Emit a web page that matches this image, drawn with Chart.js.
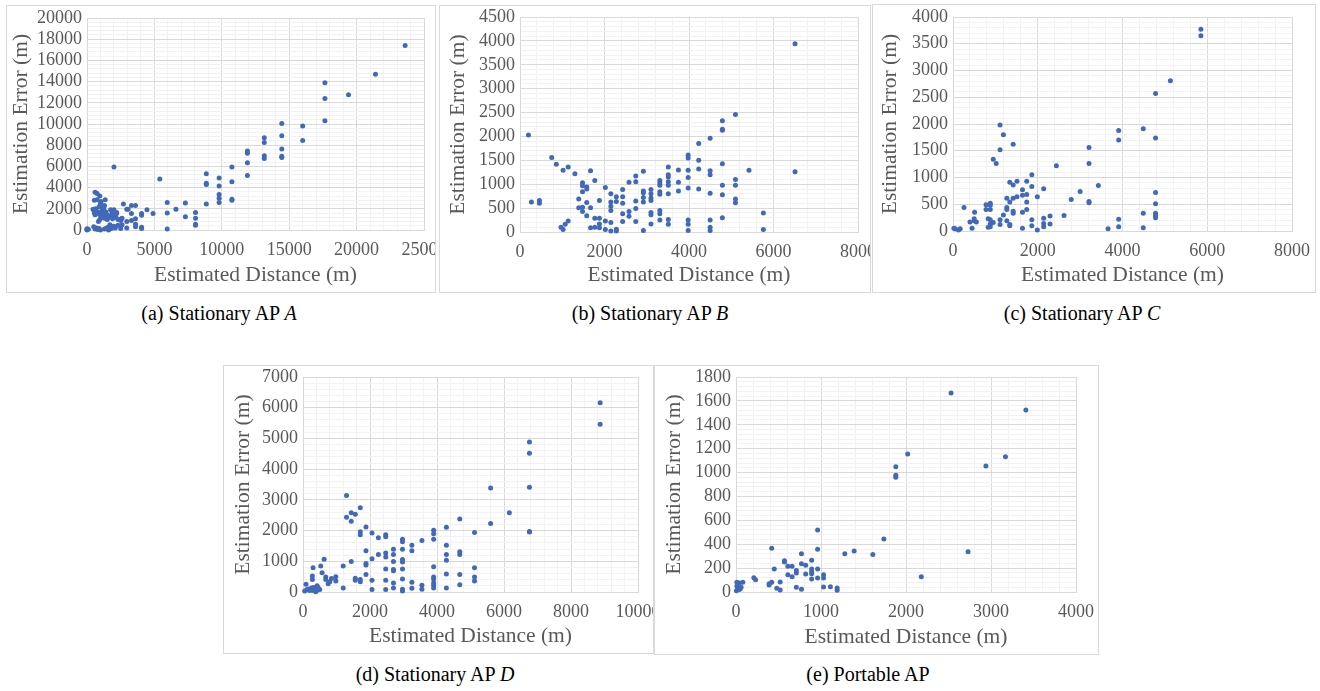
<!DOCTYPE html>
<html>
<head>
<meta charset="utf-8">
<script src="https://cdn.jsdelivr.net/npm/chart.js@4/dist/chart.umd.min.js"></script>
<style>
  body { margin: 0; background: #fff; width: 1320px; height: 691px; position: relative; overflow: hidden; }
  canvas { position: absolute; }
  .frame { position: absolute; border: 1px solid #d9d9d9; box-sizing: border-box; }
  .cap { position: absolute; font-family: "Liberation Serif", "DejaVu Serif", serif; font-size: 20px; color: #000; white-space: nowrap; transform: translate(-50%, -50%); }
</style>
</head>
<body>
<canvas id="ca" width="430" height="288" style="left:6px;top:5px"></canvas>
<canvas id="cb" width="432" height="288" style="left:439px;top:5px"></canvas>
<canvas id="cc" width="444" height="289" style="left:872px;top:4px"></canvas>
<canvas id="cd" width="431" height="289" style="left:223px;top:365px"></canvas>
<canvas id="ce" width="445" height="290" style="left:654px;top:365px"></canvas>
<div class="frame" style="left:6px;top:5px;width:430px;height:288px"></div>
<div class="frame" style="left:439px;top:5px;width:432px;height:288px"></div>
<div class="frame" style="left:872px;top:4px;width:444px;height:289px"></div>
<div class="frame" style="left:223px;top:365px;width:431px;height:289px"></div>
<div class="frame" style="left:654px;top:365px;width:445px;height:290px"></div>
<div class="cap" style="left:219px;top:313px">(a) Stationary AP <i>A</i></div>
<div class="cap" style="left:650px;top:313px">(b) Stationary AP <i>B</i></div>
<div class="cap" style="left:1082px;top:313px">(c) Stationary AP <i>C</i></div>
<div class="cap" style="left:435px;top:674px">(d) Stationary AP <i>D</i></div>
<div class="cap" style="left:868px;top:674px">(e) Portable AP</div>
<script>
// [estimated distance, estimation error] in metres
const apA = [
  [23600,17400],[21400,14700],[19400,12750],[17650,13900],[17650,12400],[17650,10300],[16000,9800],[16000,8450],
  [14450,10050],[14450,8900],[14450,7650],[14450,6950],[14450,6850],[13150,8700],[13150,8250],[13150,7000],[13150,6750],
  [11900,7450],[11900,7250],[11900,6350],[11900,5150],[10750,5950],[10750,4550],[10750,2900],[10750,2800],
  [9800,4900],[9800,4150],[9800,3350],[9800,3000],[9800,2600],[8850,5300],[8850,4400],[8850,4300],[8850,2450],
  [8050,1650],[8050,1100],[8050,550],[8050,450],[7300,2550],[7300,1250],[6600,1950],[5950,2600],[5950,1600],[5950,100],
  [5400,4800],[4900,1550],[4450,1900],[4050,1550],[4050,1400],[4050,250],[4050,150],[3600,2300],[3600,1050],[3600,550],
  [3600,300],[3300,2300],[3300,1550],[3300,900],[2950,1950],[2950,800],[2950,200],[2700,2450],[2550,1050],[2300,450],
  [2000,5950],[2200,1550],[1850,1450],[1850,300],
  [0,50],[0,120],[0,0],[100,80],[600,3550],[750,3450],[550,2800],[750,2850],[950,3200],[1050,2700],[1350,2850],
  [450,1950],[650,2000],[500,1900],[700,1800],[550,1600],[800,1700],[600,1450],[900,1500],[1000,1400],[1100,1800],
  [1250,1900],[1200,1550],[1400,1700],[1500,1450],[1600,1300],[1700,1200],[1500,1000],[1300,1100],[1100,1200],
  [850,800],[950,1000],[1000,2500],[1250,2200],[1350,1400],[1750,1900],[1850,1750],[2000,1300],[2200,1650],
  [2150,1200],[1900,1050],[2500,900],[2300,1000],[2600,1100],[3050,1950],[2600,500],[2000,350],[1700,500],
  [1550,250],[1800,150],[2100,200],[2500,150],[600,100],[700,200],[900,150],[1300,100],[1400,150],[500,300],
  [800,50],[1000,0],[1600,0],[2000,1900],[900,2200],[1150,2100],[1300,2300]
];
const apB = [
  [6510,3940],[6510,1260],[5760,400],[5760,50],[5420,1290],[5100,2460],[5100,1100],[5100,980],[5100,690],[5100,610],
  [4790,2330],[4790,2150],[4790,2130],[4790,1430],[4790,980],[4790,780],[4790,300],
  [4500,1960],[4500,1280],[4500,1200],[4500,810],[4500,250],[4500,100],[4500,30],
  [4230,1850],[4230,1500],[4230,1320],[4230,900],
  [3980,1610],[3980,1550],[3980,1290],[3980,1140],[3980,920],[3980,250],[3980,160],[3980,30],
  [3750,1300],[3750,1040],[3750,860],
  [3510,1360],[3510,1200],[3510,1150],[3510,1050],[3510,980],[3510,800],[3510,260],[3510,160],
  [3310,1080],[3310,1030],[3310,980],[3310,840],[3310,790],[3310,450],[3310,380],[3310,250],
  [3100,890],[3100,800],[3100,710],[3100,660],[3100,410],[3100,360],[3100,170],
  [2920,1270],[2920,860],[2920,820],[2920,720],[2920,630],[2920,30],
  [2740,1170],[2740,1050],[2740,650],[2740,490],[2740,220],
  [2580,1040],[2580,430],[2580,330],
  [2430,890],[2430,740],[2430,600],[2430,380],[2430,220],
  [2280,740],[2280,640],[2280,60],[2280,20],
  [2150,800],[2150,630],[2150,540],[2150,450],[2150,200],[2150,20],
  [2020,930],[2020,230],[2020,50],
  [1880,660],[1880,290],[1880,170],[1880,90],
  [1770,1080],[1770,290],[1770,100],
  [1670,1280],[1670,510],[1670,90],
  [1580,940],[1580,900],[1580,620],[1580,340],
  [1480,1030],[1480,970],[1480,840],[1480,520],[1480,430],
  [1390,690],[1390,510],
  [1300,1220],[1140,1360],[1140,230],[1070,160],[1020,1290],[970,100],[1020,50],[860,1420],[750,1560],
  [460,660],[460,600],[270,630],[200,2030]
];
const apC = [
  [5850,3770],[5850,3650],[5130,2810],[4780,2570],[4780,1740],[4780,720],[4780,510],[4780,330],[4780,290],[4780,250],
  [4490,1910],[4490,330],[4490,60],
  [3910,1880],[3910,1700],[3910,220],[3910,80],
  [3660,40],[3430,850],[3210,1560],[3210,1260],[3210,550],[3210,530],[3000,740],[2790,590],[2620,290],[2440,1220],
  [2290,280],[2290,130],[2140,790],[2140,240],[2140,140],[2140,80],[1990,640],[1990,20],
  [1860,1050],[1860,830],[1860,210],[1860,100],
  [1740,930],[1740,680],[1740,540],[1740,400],
  [1640,770],[1640,670],[1640,350],[1640,50],
  [1510,930],[1510,640],
  [1420,1620],[1420,860],[1420,610],[1420,370],[1420,330],
  [1340,910],[1340,540],[1340,120],[1340,100],
  [1270,610],[1270,440],[1270,400],[1270,190],
  [1190,1800],[1190,300],
  [1110,1980],[1110,1520],[1110,210],[1110,120],
  [1020,1260],[950,1340],[950,160],
  [880,520],[880,480],[880,400],[880,210],[880,130],[880,80],
  [830,230],[830,70],[780,490],[780,400],
  [510,350],[500,230],[500,190],[550,170],[400,170],[450,50],[260,440],
  [170,40],[130,20],[50,40],[20,50]
];
const apD = [
  [8870,6160],[8870,5460],[6760,4880],[6760,4520],[6760,3410],[6760,1970],[6760,1950],[6160,2580],[5600,3390],[5600,2230],
  [5120,1940],[5120,790],[5120,490],[5120,360],
  [4680,2380],[4680,1310],[4680,1220],[4680,570],[4680,240],
  [4280,2110],[4280,1520],[4280,1220],[4280,1030],[4280,590],[4280,130],
  [3900,2010],[3900,1900],[3900,1720],[3900,820],[3900,490],[3900,420],[3900,300],[3900,220],[3900,130],
  [3550,1680],[3550,220],[3550,90],
  [3250,1520],[3250,1340],[3250,320],[3250,120],
  [2970,1720],[2970,1640],[2970,1390],[2970,1060],[2970,980],[2970,750],[2970,420],[2970,90],[2970,30],
  [2700,1390],[2700,1220],[2700,990],[2700,730],[2700,690],[2700,290],[2700,130],
  [2470,1860],[2470,1800],[2470,1270],[2470,1140],[2470,750],[2470,380],[2470,80],
  [2250,1770],[2250,1220],
  [2060,1920],[2060,1080],[2060,380],[2060,80],
  [1880,2120],[1880,1340],[1880,930],[1880,880],[1880,570],
  [1710,2740],[1710,1960],[1710,1860],[1710,410],[1710,330],
  [1560,2530],[1560,450],[1560,380],
  [1440,2580],[1440,2300],[1440,990],
  [1300,3140],[1300,2430],
  [1200,850],[1200,130],
  [980,500],[980,360],[850,440],[800,330],[750,270],[630,1070],[680,490],[680,410],[570,630],[530,850],
  [300,790],[280,520],[280,410],[90,250],
  [50,30],[120,80],[180,100],[250,130],[350,110],[400,40],[450,150],[500,80],[380,10],[300,50],[200,50],[420,200],[320,150]
];
const apE = [
  [3410,1524],[3170,1133],[2940,1055],[2730,338],[2530,1666],[2180,128],[2020,1155],[1880,1049],[1880,977],[1880,960],
  [1740,444],[1610,315],[1390,343],[1280,321],[1190,33],[1190,14],[1110,45],[1030,145],[1030,117],[1030,42],
  [960,519],[960,357],[960,193],[960,117],
  [890,265],[890,193],[890,170],[890,153],[890,109],
  [820,223],[820,151],[770,321],[770,237],[770,22],[710,179],[710,159],[710,39],[660,215],[660,128],
  [610,215],[610,145],[570,262],[570,251],[520,84],[520,17],[480,31],[450,193],[420,366],[420,81],
  [390,59],[390,70],[210,120],[230,103],
  [80,81],[40,75],[10,81],[10,50],[60,40],[40,20],[5,10],[20,35],[50,28]
];

// axis ranges: [min, max, major step]
const xRangeA = [0, 25000, 5000], yRangeA = [0, 20000, 2000];
const xRangeB = [0, 8000, 2000],  yRangeB = [0, 4500, 500];
const xRangeC = [0, 8000, 2000],  yRangeC = [0, 4000, 500];
const xRangeD = [0, 10000, 2000], yRangeD = [0, 7000, 1000];
const xRangeE = [0, 4000, 1000],  yRangeE = [0, 1800, 200];

const FONT = "'Liberation Serif', 'Times New Roman', serif";
const GREY = '#595959';

// plot box inside each canvas: left, right, top, bottom, y-title offset
function scatter(id, pts, xr, yr, box) {
  const cv = document.getElementById(id);
  const W = cv.width, H = cv.height;
  const [pl, pr, pt, pb, yt] = box;
  const axis = (r, horiz) => ({
    type: 'linear', min: r[0], max: r[1],
    afterFit: s => {
      if (horiz) s.height = H - pb; else s.width = pl;
      s.paddingLeft = 0; s.paddingRight = 0; s.paddingTop = 0; s.paddingBottom = 0;
    },
    ticks: {
      stepSize: r[2] / 5, autoSkip: false, maxRotation: 0, minRotation: 0,
      padding: horiz ? 9 : 5, color: GREY, font: { family: FONT, size: 18 },
      callback: v => (v % r[2] === 0 ? v : '')
    },
    grid: { drawTicks: false, lineWidth: 1, color: c => (c.tick && c.tick.value % r[2] === 0 ? '#d9d9d9' : '#f2f2f2') },
    border: { color: '#d9d9d9' },
    title: {
      display: true, color: GREY, font: { family: FONT, size: 21.5 },
      text: horiz ? 'Estimated Distance (m)' : 'Estimation Error (m)',
      padding: horiz ? { top: 0, bottom: 5 } : { top: yt, bottom: 0 }
    }
  });
  new Chart(cv, {
    type: 'scatter',
    data: { datasets: [{ data: pts.map(p => ({ x: p[0], y: p[1] })), backgroundColor: '#4169b8', borderColor: '#4169b8', borderWidth: 0, pointRadius: 2.5, clip: false }] },
    options: {
      responsive: false, animation: false, events: [],
      layout: { padding: { left: 0, top: pt, right: W - pr, bottom: 0 } },
      plugins: { legend: { display: false }, tooltip: { enabled: false } },
      scales: { x: axis(xr, true), y: axis(yr, false) }
    }
  });
}

scatter('ca', apA, xRangeA, yRangeA, [81, 418, 13, 225, 2]);
scatter('cb', apB, xRangeB, yRangeB, [81, 419, 12, 227, 6]);
scatter('cc', apC, xRangeC, yRangeC, [81, 420, 13, 227, 5]);
scatter('cd', apD, xRangeD, yRangeD, [80, 415, 12, 227, 7]);
scatter('ce', apE, xRangeE, yRangeE, [82, 422, 12, 227, 7]);
</script>
</body>
</html>
